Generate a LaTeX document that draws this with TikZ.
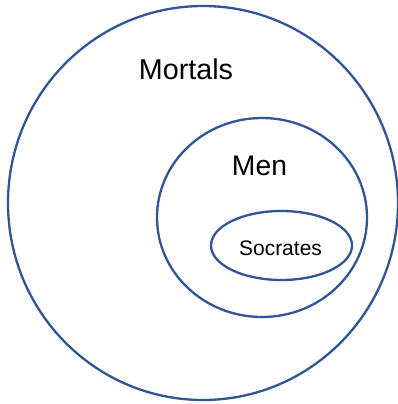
\documentclass[tikz,border=0pt]{standalone}
\usepackage{fontspec}
\setmainfont{Liberation Sans}
\usetikzlibrary{shapes.geometric}
\definecolor{vennblue}{RGB}{47,85,151}
\tikzset{
  venn/.style={draw=vennblue, line width=2.3pt, fill=none},
  lbl/.style={anchor=base, inner sep=0pt, text=black}
}
\begin{document}
\begin{tikzpicture}[x=1pt,y=-1pt]
\useasboundingbox (0,0) rectangle (397,404);
\fill[white] (0,0) rectangle (397,404);
\node[venn, ellipse, minimum width=390pt, minimum height=394pt, inner sep=0pt] (mortals) at (203,203) {};
\node[venn, ellipse, minimum width=210pt, minimum height=199pt, inner sep=0pt] (men) at (262,217.5) {};
\node[venn, ellipse, minimum width=141pt, minimum height=69pt, inner sep=0pt] (socrates) at (281.5,245.5) {};
\node[lbl, font=\fontsize{28.7pt}{30pt}\selectfont] (tmortals) at (186,79) {Mortals};
\node[lbl, font=\fontsize{28.3pt}{30pt}\selectfont] (tmen) at (259.5,175) {Men};
\node[lbl, font=\fontsize{21pt}{23pt}\selectfont] (tsoc) at (280.5,255) {Socrates};
\end{tikzpicture}
\end{document}
